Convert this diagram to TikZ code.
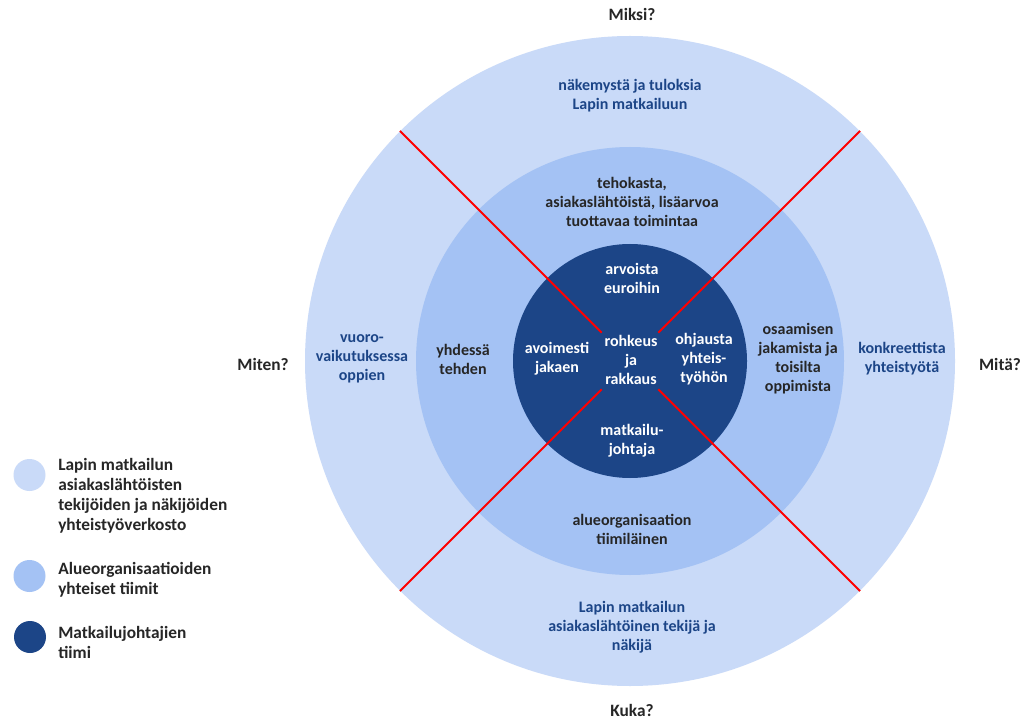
\documentclass[tikz,border=0pt]{standalone}
\usepackage{fontspec}
\setmainfont{Carlito}
\usetikzlibrary{calc}
\definecolor{ringout}{HTML}{C9DAF8}
\definecolor{ringmid}{HTML}{A4C2F4}
\definecolor{ringin}{HTML}{1C4587}
\definecolor{redline}{HTML}{FF0000}
\begin{document}
\begin{tikzpicture}[x=0.75pt,y=-0.75pt,
  lbl/.style={align=center,inner sep=0pt,font=\bfseries\fontsize{12}{14.25}\selectfont},
  qlbl/.style={align=center,inner sep=0pt,text=black!85,font=\bfseries\fontsize{13}{15}\selectfont},
  outtxt/.style={lbl,text=ringin},
  midtxt/.style={lbl,text=black!85},
  intxt/.style={lbl,text=white},
  legtxt/.style={align=left,anchor=west,inner sep=0pt,text=black!85,font=\bfseries\fontsize{13}{15}\selectfont},
  ring/.style={circle,inner sep=0pt,draw=none},
  redl/.style={draw=redline,line width=1.5pt}]
\useasboundingbox (0,0) rectangle (1024,720);
\fill[white] (0,0) rectangle (1024,720);
\coordinate (c) at (630,361);
\node[ring,fill=ringout,minimum size=487.5pt] (outer) at (c) {};
\node[ring,fill=ringmid,minimum size=321pt] (mid) at (c) {};
\node[ring,fill=ringin,minimum size=175.5pt] (inner) at (c) {};
% red dividers
\foreach \a/\n in {45/ne,135/nw,225/sw,315/se}{
  \coordinate (s\n) at ($(c)+(\a:30pt)$);
  \coordinate (e\n) at ($(c)+(\a:244pt)$);
  \draw[redl] (s\n) -- (e\n);
}
% questions
\node[qlbl] (miksi) at (632,14) {Miksi?};
\node[qlbl] (kuka) at (632,710) {Kuka?};
\node[qlbl] (miten) at (263,364) {Miten?};
\node[qlbl] (mita) at (1000,364) {Mitä?};
% outer ring
\node[outtxt] (o1) at (630,96) {näkemystä ja tuloksia\\Lapin matkailuun};
\node[outtxt] (o2) at (632,627) {Lapin matkailun\\asiakaslähtöinen tekijä ja\\näkijä};
\node[outtxt] (o3) at (362,359) {vuoro-\\vaikutuksessa\\oppien};
\node[outtxt] (o4) at (902,359) {konkreettista\\yhteistyötä};
% middle ring
\node[midtxt] (m1) at (632,202) {tehokasta,\\asiakaslähtöistä, lisäarvoa\\tuottavaa toimintaa};
\node[midtxt] (m2) at (632,529) {alueorganisaation\\tiimiläinen};
\node[midtxt] (m3) at (463,359) {yhdessä\\tehden};
\node[midtxt] (m4) at (798,359) {osaamisen\\jakamista ja\\toisilta\\oppimista};
% inner
\node[intxt] (i1) at (632,278) {arvoista\\euroihin};
\node[intxt] (i2) at (632,441) {matkailu-\\johtaja};
\node[intxt] (i3) at (557,359) {avoimesti\\jakaen};
\node[intxt] (i4) at (704,359) {ohjausta\\yhteis-\\työhön};
\node[intxt] (i5) at (631,360) {rohkeus\\ja\\rakkaus};
% legend
\node[circle,fill=ringout,minimum size=24pt,inner sep=0pt] (l1) at (29.5,475) {};
\node[circle,fill=ringmid,minimum size=24pt,inner sep=0pt] (l2) at (29.5,576) {};
\node[circle,fill=ringin,minimum size=24pt,inner sep=0pt] (l3) at (30,637) {};
\node[legtxt] (t1) at (58,496) {Lapin matkailun\\asiakaslähtöisten\\tekijöiden ja näkijöiden\\yhteistyöverkosto};
\node[legtxt] (t2) at (58,580) {Alueorganisaatioiden\\yhteiset tiimit};
\node[legtxt] (t3) at (58,642.5) {Matkailujohtajien\\tiimi};
\end{tikzpicture}
\end{document}
